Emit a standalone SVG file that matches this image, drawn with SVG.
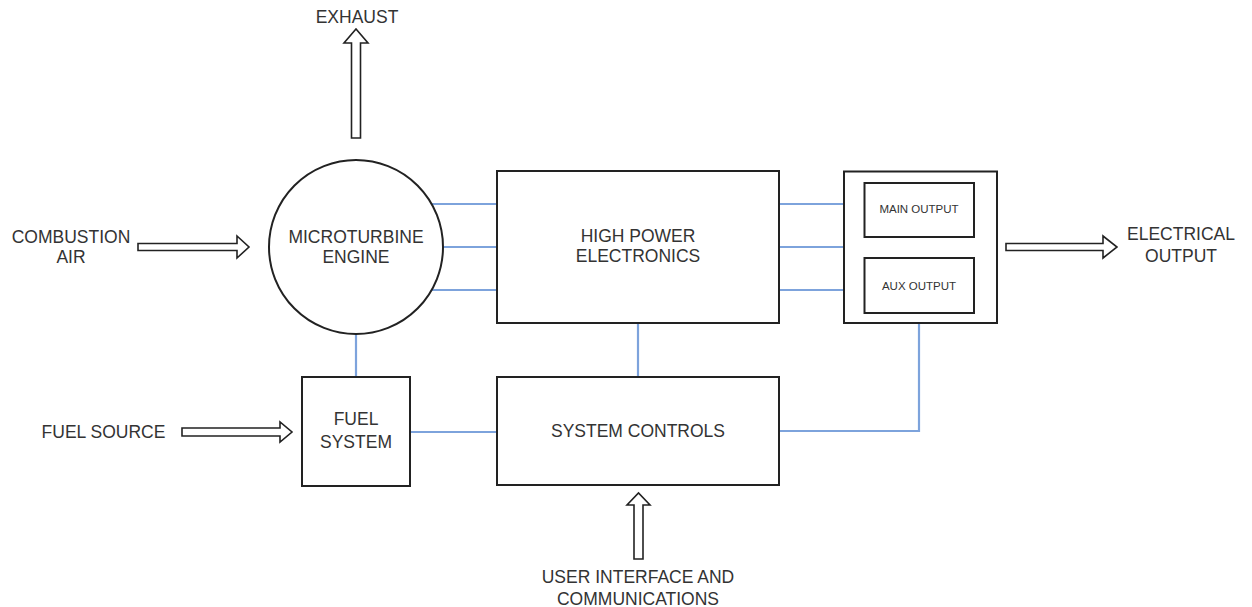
<svg xmlns="http://www.w3.org/2000/svg" width="1252" height="607" viewBox="0 0 1252 607">
  <style>
    .box { fill: #ffffff; stroke: #222222; stroke-width: 2; }
    .inner { fill: #ffffff; stroke: #222222; stroke-width: 2; }
    .link { fill: none; stroke: #7da3dc; stroke-width: 2.2; }
    .flow { fill: #ffffff; stroke: #222222; stroke-width: 1.6; stroke-linejoin: miter; }
    .lbl { font-family: "Liberation Sans", Arial, sans-serif; font-size: 17.5px; fill: #333333; text-anchor: middle; }
    .small { font-family: "Liberation Sans", Arial, sans-serif; font-size: 11.5px; fill: #333333; text-anchor: middle; }
  </style>

  <!-- blue connectors between blocks -->
  <g id="connectors">
    <line class="link" x1="432" y1="204" x2="497" y2="204"/>
    <line class="link" x1="443" y1="247" x2="497" y2="247"/>
    <line class="link" x1="432" y1="290" x2="497" y2="290"/>
    <line class="link" x1="779" y1="204" x2="844" y2="204"/>
    <line class="link" x1="779" y1="247" x2="844" y2="247"/>
    <line class="link" x1="779" y1="290" x2="844" y2="290"/>
    <line class="link" x1="356" y1="334" x2="356" y2="377"/>
    <line class="link" x1="638" y1="323" x2="638" y2="377"/>
    <line class="link" x1="410" y1="432" x2="497" y2="432"/>
    <polyline class="link" points="779,431 919,431 919,323"/>
  </g>

  <!-- hollow flow arrows -->
  <g id="flows">
    <polygon class="flow" points="351.5,138 351.5,43 344,43 356,29 368,43 360.5,43 360.5,138"/>
    <polygon class="flow" points="138,243.5 237,243.5 237,236 249,247 237,258 237,250.5 138,250.5"/>
    <polygon class="flow" points="1006,243.5 1103,243.5 1103,236 1117,247 1103,258 1103,250.5 1006,250.5"/>
    <polygon class="flow" points="182,428 280,428 280,422 292,432 280,442 280,436 182,436"/>
    <polygon class="flow" points="634,559 634,505 627,505 638.5,493 650,505 643,505 643,559"/>
  </g>

  <g id="engine">
    <circle class="box" cx="356" cy="247" r="87"/>
    <text class="lbl" x="356" y="243">MICROTURBINE</text>
    <text class="lbl" x="356" y="263">ENGINE</text>
  </g>

  <g id="electronics">
    <rect class="box" x="497" y="171" width="282" height="152"/>
    <text class="lbl" x="638" y="242">HIGH POWER</text>
    <text class="lbl" x="638" y="262">ELECTRONICS</text>
  </g>

  <g id="outputs">
    <rect class="box" x="844" y="171.5" width="153" height="151.5"/>
    <g id="main-output">
      <rect class="inner" x="864.5" y="183" width="109.5" height="54"/>
      <text class="small" x="919" y="213">MAIN OUTPUT</text>
    </g>
    <g id="aux-output">
      <rect class="inner" x="864.5" y="258" width="109.5" height="55"/>
      <text class="small" x="919" y="290">AUX OUTPUT</text>
    </g>
  </g>

  <g id="fuel-system">
    <rect class="box" x="302" y="377" width="108" height="109"/>
    <text class="lbl" x="356" y="425">FUEL</text>
    <text class="lbl" x="356" y="448">SYSTEM</text>
  </g>

  <g id="system-controls">
    <rect class="box" x="497" y="377" width="282" height="108"/>
    <text class="lbl" x="638" y="437">SYSTEM CONTROLS</text>
  </g>

  <g id="exhaust">
    <text class="lbl" x="357" y="23">EXHAUST</text>
  </g>

  <g id="combustion-air">
    <text class="lbl" x="71" y="243">COMBUSTION</text>
    <text class="lbl" x="71" y="263">AIR</text>
  </g>

  <g id="electrical-output">
    <text class="lbl" x="1181" y="240">ELECTRICAL</text>
    <text class="lbl" x="1181" y="262">OUTPUT</text>
  </g>

  <g id="fuel-source">
    <text class="lbl" x="103.5" y="438">FUEL SOURCE</text>
  </g>

  <g id="user-interface">
    <text class="lbl" x="638" y="583">USER INTERFACE AND</text>
    <text class="lbl" x="638" y="605">COMMUNICATIONS</text>
  </g>
</svg>
